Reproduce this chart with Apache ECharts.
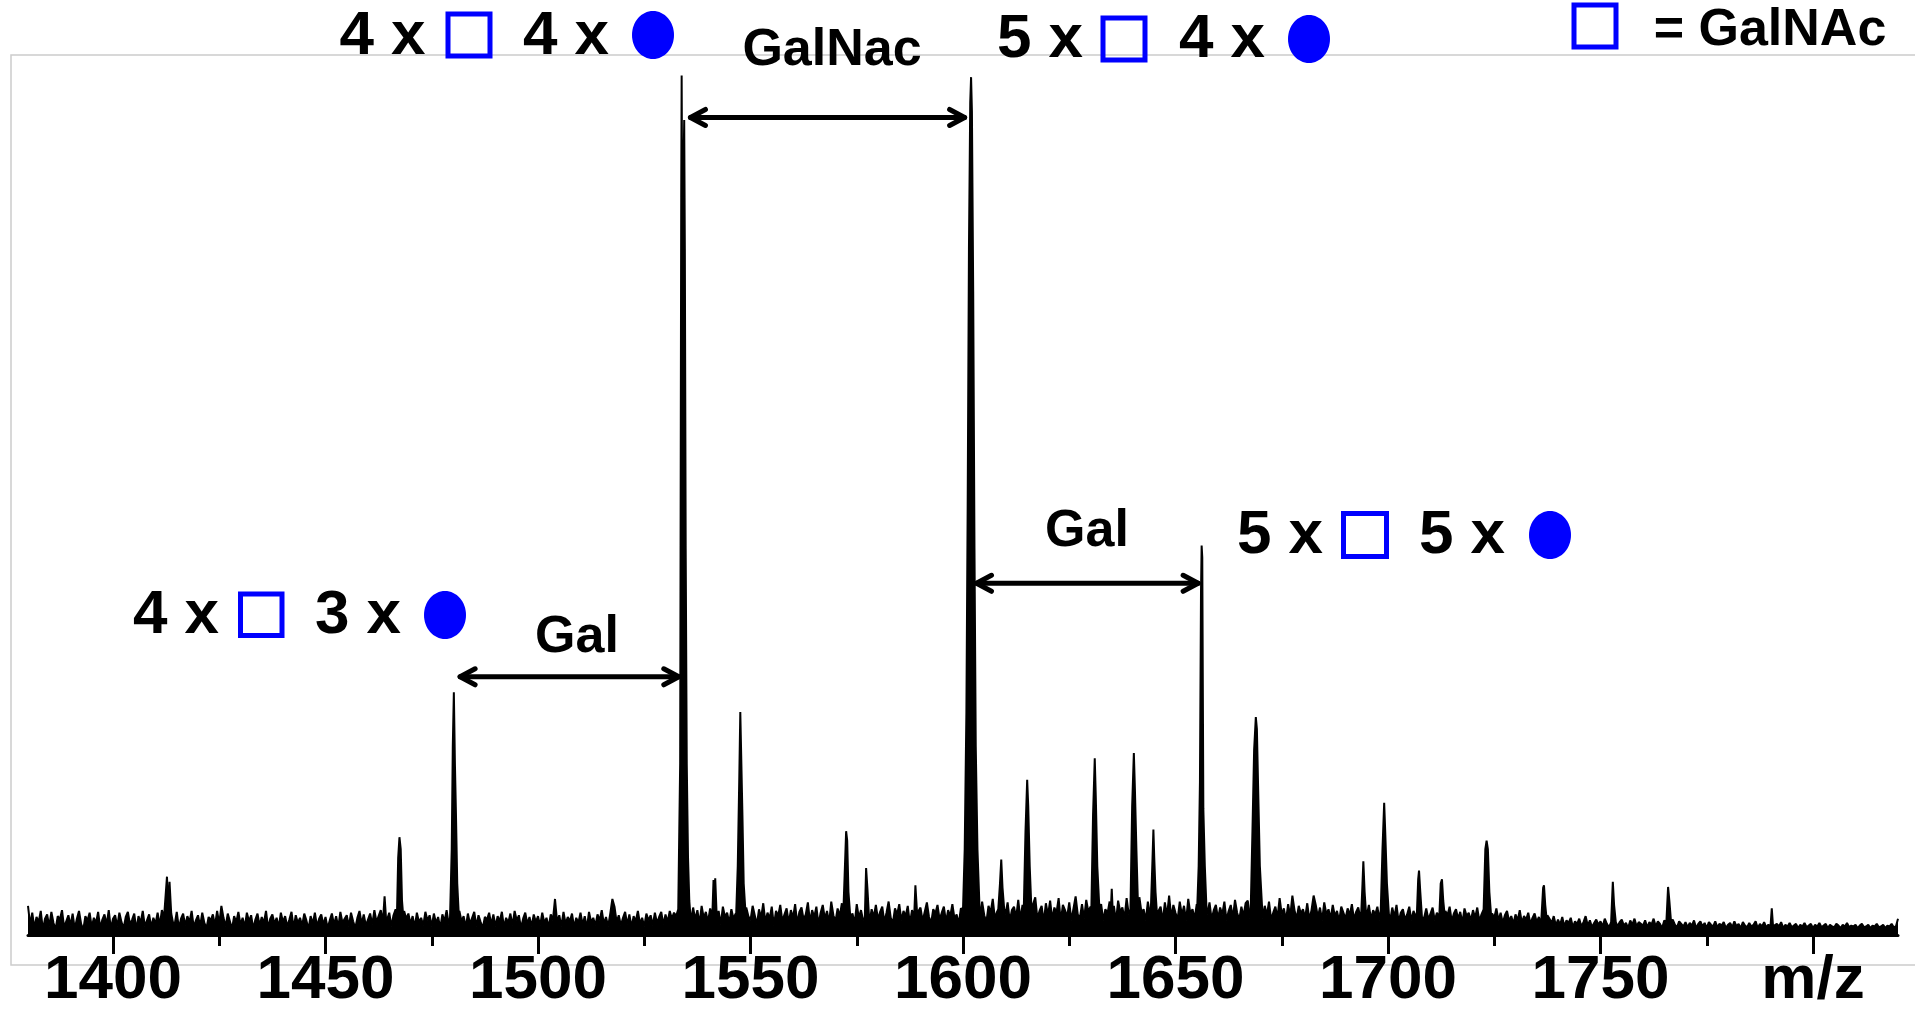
<!DOCTYPE html>
<html><head><meta charset="utf-8">
<script src="https://cdn.jsdelivr.net/npm/echarts@6/dist/echarts.min.js"></script>
<style>html,body{margin:0;padding:0;background:#fff;}#c{width:1915px;height:1012px;}</style>
</head><body><div id="c"></div>
<script>
// ---------- DATA ----------
const mzStart = 1380, mzStep = 0.5;
// baseline noise, one value every 0.5 m/z (relative intensity, %)
const noise1380 = [
3.4,1.2,2.6,0.8,2.1,1.5,2.8,0.6,1.9,2.4,1.0,2.7,1.4,0.7,2.2,1.8,2.9,0.9,1.6,2.3,
1.1,2.5,0.7,1.9,2.8,1.3,0.6,2.2,1.7,2.6,0.9,2.0,1.4,2.7,0.8,1.8,2.4,1.2,2.9,0.7,
1.9,2.3,1.0,2.6,1.5,0.8,2.1,2.7,1.2,1.8,2.5,0.6,2.2,1.4,2.8,1.0,1.7,2.4,0.9,2.0,
1.3,2.6,1.1,2.9,2.0,1.0,2.4,1.6,2.1,1.2,2.7,0.8,1.9,2.5,1.1,2.2,1.5,2.8,0.9,1.7,
2.3,1.0,2.6,1.4,0.8,2.1,1.7,2.4,1.1,2.8,1.3,3.4,2.0,1.0,2.5,1.6,0.7,2.2,1.5,2.7,
1.2,2.0,0.9,2.6,1.6,2.3,0.7,1.8,2.5,1.1,2.1,1.4,2.8,0.8,1.9,2.4,1.3,2.0,0.9,2.6,
1.5,2.2,1.0,1.8,2.7,0.8,2.3,1.4,2.0,1.1,2.5,1.7,0.7,2.2,1.3,2.6,1.0,1.9,2.4,1.2,
2.1,0.8,1.7,2.5,1.2,2.2,0.9,2.7,1.4,1.9,2.3,1.0,2.6,1.6,0.8,2.0,2.8,1.3,2.4,1.1,
1.8,2.5,1.2,2.9,1.5,2.2,2.9,1.3,2.0,1.4,2.6,1.0,2.3,3.0,1.6,2.4,1.1,2.8,1.9,2.5,
1.3,2.2,0.9,2.6,1.5,2.0,1.1,2.7,1.7,2.3,1.0,2.5,1.4,2.1,0.8,2.4,1.6,2.9,1.2,2.0,
1.4,2.6,1.1,2.8,1.6,2.2,0.9,2.5,1.3,2.0,2.7,1.0,2.3,1.5,0.8,2.1,1.8,2.6,1.2,2.4,
1.0,2.2,1.6,2.7,0.9,2.0,1.4,2.5,1.1,2.8,1.7,2.3,0.8,1.9,2.6,1.3,2.1,1.0,2.4,1.5];
const noise1500 = [
2.2,1.1,2.6,1.4,2.0,0.9,2.4,1.7,4.2,1.5,2.3,1.0,2.7,1.3,2.1,1.6,2.5,0.9,2.0,1.4,
2.6,1.2,2.2,0.8,2.7,1.5,2.0,1.1,2.4,1.7,2.9,1.3,2.1,1.0,2.5,4.2,3.3,1.5,2.3,1.1,
2.0,2.7,1.2,2.4,0.9,2.2,1.6,2.8,1.3,2.0,1.0,2.5,1.7,2.3,1.1,2.6,1.4,2.1,2.7,1.2,
2.4,1.5,2.8,1.9,2.6,2.2,3.0,3.0,2.0,2.5,1.5,2.0,1.6,3.2,1.8,2.9,1.3,3.4,2.0,2.7,
1.5,3.1,2.0,3.6,1.8,2.8,1.2,3.3,2.1,2.6,1.4,3.0,1.9,2.5,3.5,1.6,2.9,1.3,3.2,2.2,
1.7,3.4,2.3,1.2,3.0,2.0,3.7,1.5,2.6,1.9,3.3,1.1,2.8,2.2,3.5,1.6,2.4,3.1,1.4,2.9,
2.0,3.6,1.3,2.7,3.2,1.8,2.4,3.8,1.5,2.9,2.1,3.3,1.2,2.6,3.5,1.9,2.8,1.4,3.9,2.3,
1.6,3.1,2.2,3.7,1.5,2.8,1.9,3.4,2.5,1.3,3.6,2.0,2.9,1.7,3.2,2.4,1.4,3.0,2.1,3.5,
1.8,2.7,3.3,1.5,2.6,3.9,2.0,1.4,3.1,2.4,3.6,1.7,2.8,2.2,3.4,1.3,2.9,3.7,1.9,2.5,
3.2,1.6,2.7,3.8,2.1,1.4,3.0,2.5,3.5,1.8,2.6,3.3,1.5,2.9,2.2,3.6,1.9,2.4,1.3,3.1];
const noise1600 = [
2.5,1.8,3.0,2.2,2.8,1.6,2.4,3.5,1.7,3.9,2.3,1.5,3.4,2.6,4.2,1.9,2.7,3.6,1.4,3.2,
2.4,3.8,1.6,2.9,3.3,2.0,4.1,1.8,3.5,2.5,1.7,3.9,2.2,3.0,4.4,1.9,2.8,3.4,1.5,3.7,
2.3,4.0,1.8,3.2,2.6,4.3,1.6,3.5,2.9,2.1,3.8,1.7,3.1,4.5,2.4,2.0,3.6,1.9,4.1,2.7,
3.3,1.8,2.9,4.2,2.2,3.6,1.7,3.0,2.5,3.9,2.0,3.4,1.6,4.0,2.7,3.2,1.9,4.3,2.4,3.1,
2.1,3.7,1.8,4.4,2.6,3.0,1.7,3.9,2.3,3.4,1.9,4.1,2.8,3.3,1.6,3.8,2.2,4.6,2.0,3.5,
2.6,1.8,3.9,2.3,3.4,1.7,4.2,2.5,3.0,1.9,3.6,2.2,2.8,1.6,3.3,2.4,3.8,1.8,2.9,3.5,
1.9,3.2,2.4,3.9,1.7,2.8,3.5,2.0,4.1,2.6,1.8,3.3,2.2,3.7,4.0,1.9,3.0,2.5,3.6,2.1,
2.8,1.9,3.4,2.3,3.9,1.8,2.6,3.3,2.0,4.3,2.4,3.1,1.7,3.6,2.2,4.6,2.9,1.9,3.4,2.5,
3.0,2.0,3.7,1.8,2.9,4.6,3.5,2.1,3.2,1.7,3.8,2.4,3.0,1.9,3.5,2.2,2.8,1.6,3.3,2.6,
1.9,3.1,2.3,3.6,1.8,2.7,3.2,2.0,2.5,3.0,2.1,3.5,1.8,2.9,2.4,3.3,1.7,2.8,3.4,2.2];
const noise1700 = [
2.7,1.6,3.2,2.1,3.5,1.5,2.6,3.0,1.8,2.4,3.3,1.7,2.8,2.2,3.4,1.6,2.9,2.0,3.1,1.8,
2.5,3.2,1.7,2.6,2.1,3.0,1.5,2.8,2.3,3.3,1.6,2.5,3.0,1.9,2.7,1.4,3.1,2.2,2.6,1.7,
2.9,2.0,3.2,1.6,2.4,1.8,2.7,3.0,1.5,2.5,2.0,3.1,1.7,2.6,1.4,2.3,2.8,1.6,2.2,1.3,
2.4,1.7,2.9,1.4,2.2,1.8,2.6,1.3,2.0,2.5,1.5,2.1,1.2,2.7,1.6,2.3,1.9,1.4,2.2,1.1,
1.8,1.2,2.1,1.0,1.7,1.4,2.0,0.9,1.6,1.3,1.9,1.0,1.5,2.2,1.1,1.7,0.9,1.4,1.8,1.2,
1.6,1.0,1.9,1.3,0.9,1.7,1.2,2.0,1.0,1.5,1.8,1.1,1.4,0.8,1.7,1.2,1.9,1.0,1.5,1.3,
1.1,1.7,0.9,1.5,1.2,1.9,1.0,1.6,1.3,0.8,1.7,1.1,1.4,1.0,1.8,1.2,0.9,1.6,1.3,1.0,
1.5,0.9,1.4,1.1,1.7,0.8,1.3,1.6,1.0,1.4,0.8,1.5,1.2,1.0,1.6,0.9,1.3,1.1,1.5,0.8,
1.2,1.4,0.9,1.6,1.0,1.3,0.8,1.5,1.1,0.9,1.4,1.0,1.2,1.6,0.8,1.3,1.0,1.5,0.9,1.2,
1.1,1.4,0.9,1.3,1.0,1.5,0.8,1.2,1.0,1.4,0.9,1.1,1.3,0.8,1.2,1.0,1.4,0.9,1.1,1.3,
0.8,1.2,1.0,1.4,0.9,1.1,1.3,0.8,1.2,1.0,0.9,1.3,1.1,0.8,1.2,1.0,1.4,0.9,1.1,1.0,
1.2,0.8,1.1,1.3,0.9,1.0,1.2,0.8,1.1,1.0,1.3,0.9,1.0,1.2,0.8,1.1,1.0,1.3,0.9,1.0,
1.9];
// peak profiles: [m/z, relative intensity %]
const peakProfiles = [
 [[1412.3,2.0],[1412.7,6.8],[1413.0,3.0],[1413.3,6.2],[1413.7,2.5],[1414.1,1.5]],
 [[1463.5,1.5],[1463.9,4.5],[1464.3,1.5]],
 [[1466.8,2.0],[1467.1,9.0],[1467.4,11.4],[1467.7,10.0],[1468.0,4.0],[1468.4,1.5]],
 [[1479.3,2.0],[1479.7,10],[1479.95,22],[1480.2,28.3],[1480.45,20],[1480.7,14],[1481.0,6],[1481.4,2]],
 [[1533.2,3],[1533.45,20],[1533.6,60],[1533.7,86],[1533.8,100.2],[1533.9,88],[1534.2,87.7],[1534.4,95],[1534.55,80],[1534.75,45],[1535.0,20],[1535.3,9],[1535.6,4],[1535.9,2]],
 [[1541.0,2],[1541.3,6.4],[1541.5,4],[1541.7,6.6],[1542.1,1.5]],
 [[1546.6,2],[1547.0,8],[1547.35,18],[1547.6,26],[1547.85,20],[1548.1,14],[1548.4,6],[1548.9,2]],
 [[1571.8,2],[1572.15,7],[1572.5,12.1],[1572.75,11],[1573.05,5],[1573.5,2]],
 [[1576.9,2],[1577.2,7.8],[1577.5,5.5],[1577.9,2]],
 [[1588.5,2],[1588.8,5.8],[1589.2,2.5]],
 [[1600.0,3],[1600.4,10],[1600.8,26],[1601.1,50],[1601.4,80],[1601.7,97],[1601.9,100],[1602.1,96],[1602.4,75],[1602.7,45],[1603.0,22],[1603.4,10],[1603.9,3]],
 [[1608.3,3],[1608.7,6],[1609.0,8.8],[1609.3,5.5],[1609.7,3]],
 [[1614.3,3],[1614.7,12],[1615.1,18.1],[1615.35,15],[1615.7,8],[1616.1,3]],
 [[1630.2,3],[1630.6,14],[1631.0,20.6],[1631.25,16],[1631.6,8],[1632.1,3]],
 [[1634.7,2],[1635.0,5.4],[1635.3,2]],
 [[1639.4,3],[1639.8,15],[1640.2,21.2],[1640.45,17],[1640.8,10],[1641.2,3]],
 [[1644.2,3],[1644.6,9],[1644.8,12.3],[1645.0,9],[1645.3,5],[1645.7,2]],
 [[1655.1,3],[1655.45,8],[1655.75,17.8],[1656.0,40],[1656.15,45.4],[1656.3,44],[1656.55,14.7],[1656.9,8],[1657.3,3]],
 [[1667.7,3],[1668.1,12],[1668.5,21.6],[1668.9,25.4],[1669.15,24],[1669.45,17],[1669.85,8],[1670.4,3]],
 [[1693.7,2.5],[1694.0,6],[1694.2,8.6],[1694.5,5],[1694.9,2]],
 [[1698.3,3],[1698.7,10],[1699.1,15.4],[1699.35,12],[1699.75,6],[1700.2,2.5]],
 [[1706.8,2.5],[1707.1,6.5],[1707.3,7.5],[1707.6,5],[1708.0,2]],
 [[1712.1,2.5],[1712.4,6],[1712.7,6.5],[1713.0,4],[1713.4,2]],
 [[1722.5,3],[1722.9,10],[1723.2,11],[1723.5,10],[1723.85,5],[1724.3,2]],
 [[1736.1,2],[1736.5,5.5],[1736.7,5.8],[1737.0,3.5],[1737.4,1.5]],
 [[1752.5,1.5],[1752.9,6.2],[1753.2,3.5],[1753.6,1.5]],
 [[1765.5,1.5],[1765.9,5.6],[1766.2,4],[1766.6,1.5]],
 [[1790.0,1],[1790.3,3.1],[1790.6,1]]
];
const majorTicks = [1400,1450,1500,1550,1600,1650,1700,1750,1800];
const minorTicks = [1425,1475,1525,1575,1625,1675,1725,1775];
const axisTitle = 'm/z';          // shown in place of the last major tick label
const axisTitleAt = 1800;
// annotation arrows: [from m/z, to m/z, intensity level %]
const arrowSpans = [[1535.4,1600.85,95.3],[1481.2,1533.6,30.1],[1602.7,1655.8,41.0]];

// ---------- BUILD ----------
const FONT = '"Liberation Sans", Arial, sans-serif';
function buildSpectrum(){
  const noise = [].concat(noise1380, noise1500, noise1600, noise1700);
  const ranges = peakProfiles.map(p => [p[0][0], p[p.length-1][0]]);
  const pts = [];
  noise.forEach((v,i)=>{
    const mz = mzStart + i*mzStep;
    if(!ranges.some(r => mz >= r[0] && mz <= r[1])) pts.push([mz, v]);
  });
  peakProfiles.forEach(p => p.forEach(q => pts.push([q[0], q[1]])));
  pts.sort((a,b)=>a[0]-b[0]);
  return pts;
}

const chart = echarts.init(document.getElementById('c'), null, {renderer:'canvas'});
chart.setOption({
  animation:false,
  backgroundColor:'#ffffff',
  textStyle:{fontFamily:FONT},
  grid:{left:28, right:17, top:60, bottom:76, containLabel:false},
  xAxis:[
   {type:'value', min:1380, max:1820, position:'bottom',
    axisLine:{show:true, onZero:false, lineStyle:{color:'#000', width:3}},
    axisTick:{show:true, inside:false, length:19, customValues:majorTicks, lineStyle:{color:'#000', width:3}},
    axisLabel:{show:true, customValues:majorTicks, margin:15, color:'#000', fontSize:62, fontWeight:'bold', fontFamily:FONT,
      formatter: v => (v === axisTitleAt ? axisTitle : String(v))},
    splitLine:{show:false}},
   {type:'value', min:1380, max:1820, position:'bottom', gridIndex:0,
    axisLine:{show:false, onZero:false},
    axisTick:{show:true, inside:false, length:11, customValues:minorTicks, lineStyle:{color:'#000', width:3}},
    axisLabel:{show:false}, splitLine:{show:false}}
  ],
  yAxis:{type:'value', min:0, max:102, show:false, splitLine:{show:false}},
  series:[{type:'line', xAxisIndex:0, yAxisIndex:0, data:buildSpectrum(), showSymbol:false, symbol:'none',
    lineStyle:{color:'#000', width:2}, areaStyle:{color:'#000', opacity:1}, z:2}]
});

// ---------- ANNOTATIONS ----------
const txt = (t,x,y,size)=>({type:'text', z:100, style:{text:t, x:x, y:y, fill:'#000', fontSize:size, fontWeight:'bold', fontFamily:FONT, align:'center', verticalAlign:'middle'}});
const sq = (x,y,w,h)=>({type:'rect', z:100, shape:{x:x,y:y,width:w,height:h}, style:{fill:'none', stroke:'#0000ff', lineWidth:5}});
const dot = (cx,cy,rx,ry)=>({type:'ellipse', z:100, shape:{cx:cx,cy:cy,rx:rx,ry:ry}, style:{fill:'#0000ff'}});
function arrowEls(a){
  const p1 = chart.convertToPixel({seriesIndex:0}, [a[0], a[2]]);
  const p2 = chart.convertToPixel({seriesIndex:0}, [a[1], a[2]]);
  const st = {stroke:'#000', lineWidth:5, lineCap:'round', lineJoin:'round', fill:'none'};
  return [
    {type:'line', z:100, shape:{x1:p1[0]+2, y1:p1[1], x2:p2[0]-2, y2:p2[1]}, style:st},
    {type:'polyline', z:100, shape:{points:[[p1[0]+17,p1[1]-8],[p1[0]+2,p1[1]],[p1[0]+17,p1[1]+8]]}, style:st},
    {type:'polyline', z:100, shape:{points:[[p2[0]-17,p2[1]-8],[p2[0]-2,p2[1]],[p2[0]-17,p2[1]+8]]}, style:st}
  ];
}
let els = [
  {type:'rect', z:-5, shape:{x:11, y:55, width:1930, height:910}, style:{fill:'none', stroke:'#cccccc', lineWidth:1.5}},
  // top left glycan label
  txt('4 x',382.5,37,62), sq(448,14,42,42), txt('4 x',566,37,62), dot(653,35,21,24),
  // GalNac
  txt('GalNac',832,51,52),
  // top right glycan label
  txt('5 x',1040,40,62), sq(1103,18,42,42), txt('4 x',1222,40,62), dot(1309,39,21,24),
  // legend
  sq(1574,5,42,42), txt('= GalNAc',1770,31,52),
  // lower left glycan label
  txt('4 x',176,616,62), sq(240.5,594,41.5,41.5), txt('3 x',358,616,62), dot(445,615,21,24),
  txt('Gal',577,638,52),
  // right glycan label
  txt('Gal',1087,532,52),
  txt('5 x',1280,536,62), sq(1343.5,513.5,43,43), txt('5 x',1462,536,62), dot(1550,535,21,24)
];
arrowSpans.forEach(a => { els = els.concat(arrowEls(a)); });
chart.setOption({graphic:{elements:els}});
</script>
</body></html>
